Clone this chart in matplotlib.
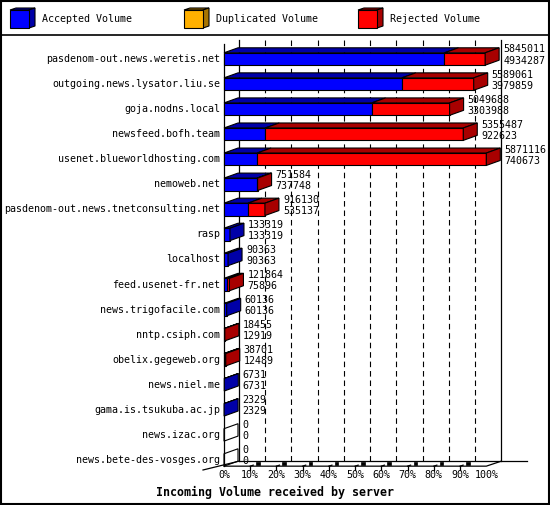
import matplotlib
matplotlib.use("Agg")
import matplotlib.pyplot as plt
from matplotlib.patches import Polygon, Rectangle

servers = ["pasdenom-out.news.weretis.net", "outgoing.news.lysator.liu.se",
           "goja.nodns.local", "newsfeed.bofh.team", "usenet.blueworldhosting.com",
           "nemoweb.net", "pasdenom-out.news.tnetconsulting.net", "rasp", "localhost",
           "feed.usenet-fr.net", "news.trigofacile.com", "nntp.csiph.com",
           "obelix.gegeweb.org", "news.niel.me", "gama.is.tsukuba.ac.jp",
           "news.izac.org", "news.bete-des-vosges.org"]
total = [5845011, 5589061, 5049688, 5355487, 5871116, 751584, 916130, 133319, 90363,
         121864, 60136, 18455, 38701, 6731, 2329, 0, 0]
accepted = [4934287, 3979859, 3303988, 922623, 740673, 737748, 535137, 133319, 90363,
            75896, 60136, 12919, 12489, 6731, 2329, 0, 0]
duplicated = [0] * len(servers)
ticks = [0, 10, 20, 30, 40, 50, 60, 70, 80, 90, 100]
legend_items = ["Accepted Volume", "Duplicated Volume", "Rejected Volume"]

BLUE, DBLUE = "#0000ff", "#0000a8"
YEL, DYEL = "#ffb000", "#a87400"
RED, DRED = "#ff0000", "#a80000"
font = "DejaVu Sans Mono"
fs = 7.2

W, H = 550, 505
fig = plt.figure(figsize=(W / 100, H / 100), dpi=100)

# pixel overlay for the frame and the legend
ov = fig.add_axes([0, 0, 1, 1])
ov.set_xlim(0, W)
ov.set_ylim(H, 0)
ov.axis("off")
ov.add_patch(Rectangle((1, 1), W - 2, H - 2, fill=False, lw=1.5, ec="black"))
ov.plot([0, W], [35, 35], color="black", lw=1.2)

def cube(a, x, y, w, h, dx, dy, c1, c2, zo=3):
    a.add_patch(Polygon([(x, y), (x + w, y), (x + w + dx, y - dy), (x + dx, y - dy)],
                        closed=True, fc=c2, ec="black", lw=0.8, zorder=zo))
    a.add_patch(Polygon([(x + w, y), (x + w, y + h), (x + w + dx, y + h - dy), (x + w + dx, y - dy)],
                        closed=True, fc=c2, ec="black", lw=0.8, zorder=zo))
    a.add_patch(Rectangle((x, y), w, h, fc=c1, ec="black", lw=0.8, zorder=zo))

for lx, lab, (c1, c2) in zip([10, 184, 358], legend_items,
                             [(BLUE, DBLUE), (YEL, DYEL), (RED, DRED)]):
    cube(ov, lx, 10, 19, 18, 6, 2, c1, c2)
    ov.text(lx + 32, 19.5, lab, family=font, fontsize=fs, va="center", ha="left")

ov.text(W / 2, 492, "Incoming Volume received by server", family=font,
        fontsize=8.4, fontweight="bold", ha="center", va="center")

# chart axes: x in percent of the largest total, y in rows
x0, x1 = 224, 486.3
row0, rowh = 59, 25.06
ytop, ybot = 35, 480
ax = fig.add_axes([x0 / W, 1 - ybot / H, (x1 - x0) / W, (ybot - ytop) / H])
ax.set_xlim(0, 100)
ax.set_ylim((ybot - row0) / rowh, (ytop - row0) / rowh)
ax.axis("off")

px = 100 / (x1 - x0)
py = 1 / rowh
dxw, dyw = 15 * px, 5 * py     # wall depth
dxb, dyb = 14 * px, 5 * py     # bar depth
half = 6.2 * py
n = len(servers)
yt = -0.76
yfb = n - 1 + half - dyw       # back floor
yff = n - 1 + half             # front floor

kw = dict(color="black", lw=0.9, clip_on=False)
for t in ticks[1:-1]:
    ax.plot([t + dxw, t + dxw], [yt, yfb], color="black", lw=0.8,
            dashes=(5, 3.5), clip_on=False, zorder=1)
ax.plot([0, 0], [-0.6, yff], **kw)
ax.plot([dxw, dxw], [yt, yfb], **kw)
ax.plot([100 + dxw, 100 + dxw], [yt, yfb], **kw)
ax.plot([dxw, 115.5], [yfb, yfb], **kw)
ax.plot([0, 100, 100 + dxw], [yff, yff, yfb], **kw)
ax.plot([-8, dxw], [16.4, yfb], **kw)

for t in ticks:
    ax.text(t, 16.62, f"{t}%", family=font, fontsize=fs, ha="center", va="center")
    if 0 < t < 100:
        ax.plot([t, t], [yff, yff + 4 * py], **kw)
        ax.plot([t, t + 3 * px], [yff, yff - 1 * py], **kw)
        ax.add_patch(Rectangle((t + 6 * px, yff - 4 * py), 3.5 * px, 3 * py,
                               fc="black", ec="black", lw=0.5, clip_on=False))

vmax = max(total)
for i, (name, tot, acc) in enumerate(zip(servers, total, accepted)):
    a = acc / vmax * 100
    t = tot / vmax * 100
    top, bot = i - half, i + half
    for s0, s1, c1, c2 in [(0, a, BLUE, DBLUE), (a, t, RED, DRED)]:
        if s1 - s0 <= 0:
            continue
        ax.add_patch(Polygon([(s0, top), (s1, top), (s1 + dxb, top - dyb), (s0 + dxb, top - dyb)],
                             closed=True, fc=c2, ec="black", lw=0.8, clip_on=False, zorder=3))
        ax.add_patch(Rectangle((s0, top), s1 - s0, bot - top, fc=c1, ec="black",
                               lw=0.8, clip_on=False, zorder=3))
    if tot == 0:
        side = "none"
    else:
        side = DRED if t > a else DBLUE
    ax.add_patch(Polygon([(t, top), (t, bot), (t + dxb, bot - dyb), (t + dxb, top - dyb)],
                         closed=True, fc=side, ec="black", lw=0.8, clip_on=False, zorder=3))
    ax.text(-4 * px, i, name, family=font, fontsize=fs, ha="right", va="center")
    ax.text(t + dxb + 4 * px, i - 0.38, str(tot), family=font, fontsize=fs,
            ha="left", va="center")
    ax.text(t + dxb + 4 * px, i + 0.06, str(acc), family=font, fontsize=fs,
            ha="left", va="center")

fig.savefig("out.png", dpi=100)
